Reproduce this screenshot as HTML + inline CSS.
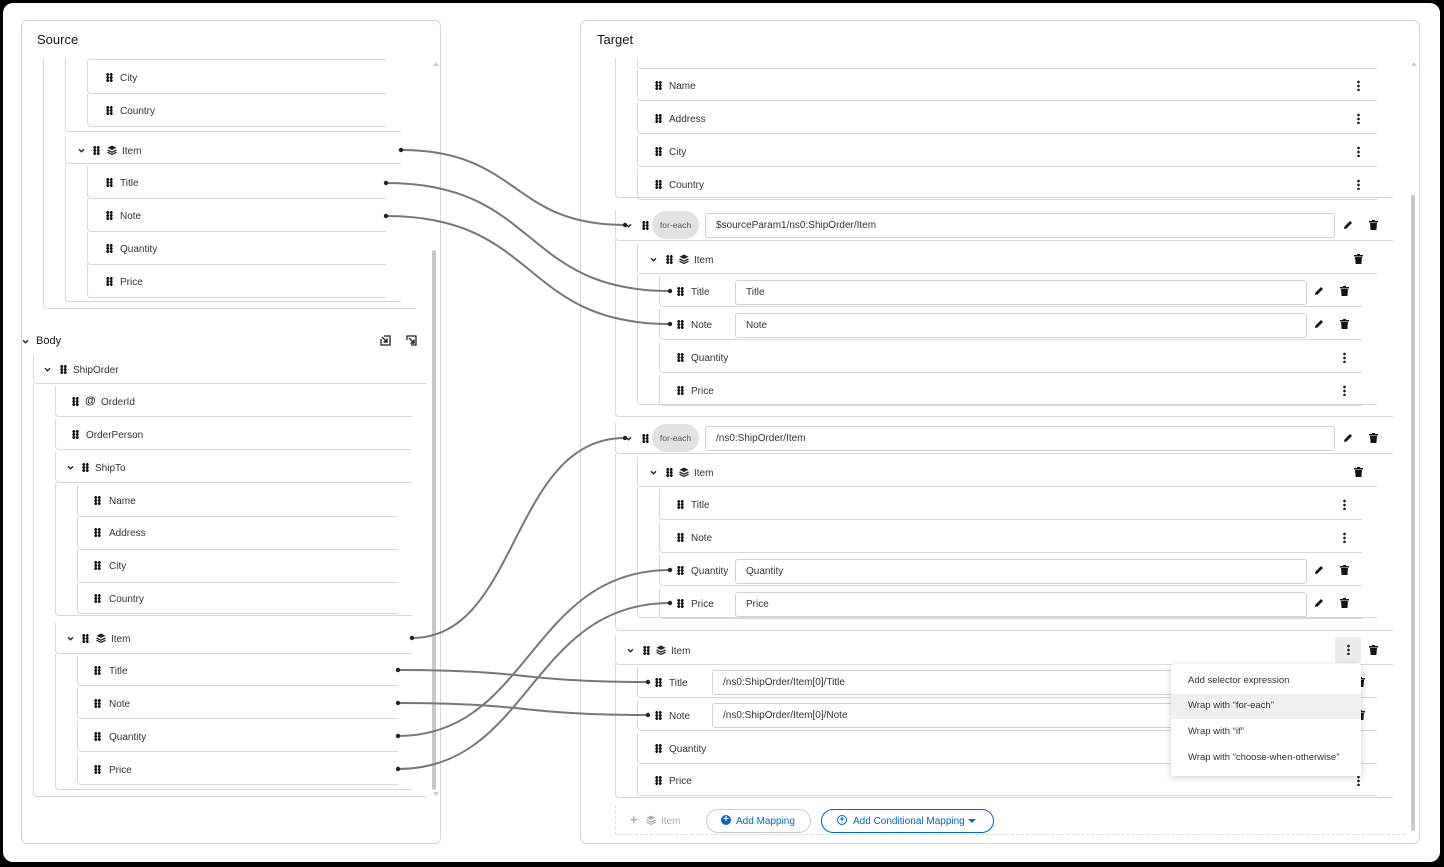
<!DOCTYPE html>
<html><head><meta charset="utf-8"><style>
*{box-sizing:border-box;margin:0;padding:0}
body{width:1444px;height:867px;background:#000;position:relative;overflow:hidden;font-family:"Liberation Sans",sans-serif;color:#222}
#page{position:absolute;left:3px;top:3px;width:1437px;height:859px;background:#fff;border-radius:10px;overflow:hidden}
.a{position:absolute}
.panel{position:absolute;border:1px solid #d6d6d6;border-radius:6px;background:#fff}
.h{position:absolute;font-size:13px;color:#151515}
.r{position:absolute;border-left:1px solid #d8d8d8;border-bottom:1px solid #d8d8d8;border-radius:0 0 0 4px}
.t{position:absolute;font-size:10px;line-height:14px;color:#333;white-space:nowrap;transform:translateY(2px)}
.g{position:absolute;width:7px;height:9px;background:radial-gradient(circle,#151515 1.4px,transparent 1.6px) 0 0/3.5px 3px}
.k{position:absolute;width:3px;height:11px;background:radial-gradient(circle,#222 1.2px,transparent 1.5px) 0 0/3px 4px}
.in{position:absolute;border:1px solid #d2d2d2;border-radius:3px;font-size:10px;line-height:23px;padding-left:10px;color:#333;background:#fff;white-space:nowrap;overflow:hidden}
.pill{position:absolute;background:#e2e2e2;border-radius:14px;font-size:8.5px;color:#555;text-align:center;line-height:28px;width:47px;height:28px}
svg.i{position:absolute;overflow:visible}
</style></head><body><div id="page">
<svg width="0" height="0" style="position:absolute"><defs>
<symbol id="chev" viewBox="0 0 8 6"><path d="M1 1.5 L4 4.5 L7 1.5" fill="none" stroke="#222" stroke-width="1.6"/></symbol>
<symbol id="lay" viewBox="0 0 10 10"><path d="M5 0.5 L9.5 2.8 L5 5 L0.5 2.8Z" fill="#222"/><path d="M0.5 5 L5 7.2 L9.5 5" fill="none" stroke="#222" stroke-width="1.3"/><path d="M0.5 7.2 L5 9.4 L9.5 7.2" fill="none" stroke="#222" stroke-width="1.3"/></symbol>
<symbol id="trash" viewBox="0 0 9 10"><rect x="0" y="1" width="9" height="1.5" fill="#151515"/><rect x="3" y="0" width="3" height="1.2" fill="#151515"/><path d="M1 3 H8 L7.4 10 H1.6Z" fill="#151515"/></symbol>
<symbol id="pen" viewBox="0 0 10 10"><path d="M1 9 L1.5 6.5 L7 1 L9 3 L3.5 8.5Z" fill="#151515"/></symbol>
</defs></svg>
<div class="a" style="left:-3px;top:-3px;width:1444px;height:867px">

<!-- SOURCE PANEL -->
<div class="panel" style="left:21px;top:20px;width:420px;height:824px"></div>
<div class="h" style="left:37px;top:32px">Source</div>
<div class="a" style="left:22px;top:58px;width:410px;height:253px;overflow:hidden">
 <div style="position:absolute;left:-22px;top:-58px;width:440px;height:320px">
 <div class="r" style="left:43px;top:40px;width:373px;height:269px"></div>
 <div class="r" style="left:65px;top:40px;width:336px;height:92px"></div>
 <div class="r" style="left:87px;top:40px;width:299px;height:20px"></div>
 <div class="r" style="left:87px;top:61px;width:299px;height:33px"></div><div class="g" style="left:106px;top:73px"></div><div class="t" style="left:120px;top:70px">City</div>
 <div class="r" style="left:87px;top:94px;width:299px;height:33px"></div><div class="g" style="left:106px;top:106px"></div><div class="t" style="left:120px;top:103px">Country</div>
 <div class="r" style="left:65px;top:137px;width:336px;height:27px"></div>
 <svg class="i" style="left:78px;top:148px" width="7" height="5"><use href="#chev"/></svg><div class="g" style="left:93px;top:146px"></div><svg class="i" style="left:107px;top:145px" width="10" height="10"><use href="#lay"/></svg><div class="t" style="left:122px;top:143px">Item</div>
 <div class="r" style="left:65px;top:164px;width:336px;height:138px"></div>
 <div class="r" style="left:87px;top:166px;width:299px;height:33px"></div><div class="g" style="left:106px;top:178px"></div><div class="t" style="left:120px;top:175px">Title</div>
 <div class="r" style="left:87px;top:199px;width:299px;height:33px"></div><div class="g" style="left:106px;top:211px"></div><div class="t" style="left:120px;top:208px">Note</div>
 <div class="r" style="left:87px;top:232px;width:299px;height:33px"></div><div class="g" style="left:106px;top:244px"></div><div class="t" style="left:120px;top:241px">Quantity</div>
 <div class="r" style="left:87px;top:265px;width:299px;height:33px"></div><div class="g" style="left:106px;top:277px"></div><div class="t" style="left:120px;top:274px">Price</div>
 </div>
</div>
<div class="a" style="left:433px;top:62px;width:0;height:0;border:3px solid transparent;border-bottom:4px solid #ccc;border-top:none"></div>
<div class="a" style="left:432px;top:250px;width:4px;height:540px;background:#c8c8c8;border-radius:2px"></div>
<div class="a" style="left:433px;top:792px;width:0;height:0;border:3px solid transparent;border-top:4px solid #ccc;border-bottom:none"></div>

<svg class="i" style="left:22px;top:339px" width="7" height="5"><use href="#chev"/></svg>
<div class="a" style="left:36px;top:335px;font-size:11px;color:#151515">Body</div>
<svg class="i" style="left:380px;top:335px" width="11" height="11" viewBox="0 0 11 11"><path d="M1 4 V10 H10 V1 H4" fill="none" stroke="#222" stroke-width="1.3"/><path d="M2 2 L7 7 M7 3.5 V7 H3.5" fill="none" stroke="#222" stroke-width="1.4"/></svg>
<svg class="i" style="left:406px;top:335px" width="11" height="11" viewBox="0 0 11 11"><path d="M1 5 V1 H10 V10 H5" fill="none" stroke="#222" stroke-width="1.3"/><path d="M3 3 L8 8 M8 4.5 V8 H4.5" fill="none" stroke="#222" stroke-width="1.4"/></svg>

<div class="r" style="left:33px;top:356px;width:394px;height:28px"></div>
<svg class="i" style="left:44px;top:367px" width="7" height="5"><use href="#chev"/></svg><div class="g" style="left:60px;top:365px"></div><div class="t" style="left:73px;top:362px">ShipOrder</div>
<div class="r" style="left:33px;top:384px;width:394px;height:413px"></div>
<div class="r" style="left:55px;top:386px;width:357px;height:31px"></div><div class="g" style="left:72px;top:397px"></div><div class="a" style="left:85px;top:395px;font-size:11px;font-weight:bold">@</div><div class="t" style="left:101px;top:394px">OrderId</div>
<div class="r" style="left:55px;top:419px;width:357px;height:31px"></div><div class="g" style="left:72px;top:430px"></div><div class="t" style="left:86px;top:427px">OrderPerson</div>
<div class="r" style="left:55px;top:452px;width:357px;height:31px"></div>
<svg class="i" style="left:67px;top:465px" width="7" height="5"><use href="#chev"/></svg><div class="g" style="left:82px;top:463px"></div><div class="t" style="left:95px;top:460px">ShipTo</div>
<div class="r" style="left:55px;top:483px;width:357px;height:133px"></div>
<div class="r" style="left:77px;top:485px;width:321px;height:32px"></div><div class="g" style="left:94px;top:496px"></div><div class="t" style="left:109px;top:493px">Name</div>
<div class="r" style="left:77px;top:517px;width:321px;height:33px"></div><div class="g" style="left:94px;top:528px"></div><div class="t" style="left:109px;top:525px">Address</div>
<div class="r" style="left:77px;top:550px;width:321px;height:33px"></div><div class="g" style="left:94px;top:561px"></div><div class="t" style="left:109px;top:558px">City</div>
<div class="r" style="left:77px;top:583px;width:321px;height:31px"></div><div class="g" style="left:94px;top:594px"></div><div class="t" style="left:109px;top:591px">Country</div>
<div class="r" style="left:55px;top:623px;width:357px;height:31px"></div>
<svg class="i" style="left:67px;top:636px" width="7" height="5"><use href="#chev"/></svg><div class="g" style="left:82px;top:634px"></div><svg class="i" style="left:96px;top:633px" width="10" height="10"><use href="#lay"/></svg><div class="t" style="left:111px;top:631px">Item</div>
<div class="r" style="left:55px;top:654px;width:357px;height:136px"></div>
<div class="r" style="left:77px;top:655px;width:321px;height:31px"></div><div class="g" style="left:94px;top:666px"></div><div class="t" style="left:109px;top:663px">Title</div>
<div class="r" style="left:77px;top:688px;width:321px;height:31px"></div><div class="g" style="left:94px;top:699px"></div><div class="t" style="left:109px;top:696px">Note</div>
<div class="r" style="left:77px;top:721px;width:321px;height:31px"></div><div class="g" style="left:94px;top:732px"></div><div class="t" style="left:109px;top:729px">Quantity</div>
<div class="r" style="left:77px;top:754px;width:321px;height:31px"></div><div class="g" style="left:94px;top:765px"></div><div class="t" style="left:109px;top:762px">Price</div>

<!-- TARGET PANEL -->
<div class="panel" style="left:580px;top:20px;width:840px;height:824px"></div>
<div class="h" style="left:597px;top:32px">Target</div>
<div class="a" style="left:1411px;top:62px;width:0;height:0;border:3px solid transparent;border-bottom:4px solid #ccc;border-top:none"></div>
<div class="a" style="left:1411px;top:195px;width:4px;height:636px;background:#c8c8c8;border-radius:2px"></div>

<div class="a" style="left:581px;top:58px;width:828px;height:145px;overflow:hidden">
 <div style="position:absolute;left:-581px;top:-58px;width:1420px;height:220px">
 <div class="r" style="left:615px;top:40px;width:778px;height:158px"></div>
 <div class="r" style="left:637px;top:40px;width:740px;height:29px"></div>
 <div class="r" style="left:637px;top:70px;width:740px;height:31px"></div><div class="g" style="left:655px;top:81px"></div><div class="t" style="left:669px;top:78px">Name</div><div class="k" style="left:1357px;top:80px"></div>
 <div class="r" style="left:637px;top:103px;width:740px;height:31px"></div><div class="g" style="left:655px;top:114px"></div><div class="t" style="left:669px;top:111px">Address</div><div class="k" style="left:1357px;top:113px"></div>
 <div class="r" style="left:637px;top:136px;width:740px;height:31px"></div><div class="g" style="left:655px;top:147px"></div><div class="t" style="left:669px;top:144px">City</div><div class="k" style="left:1357px;top:146px"></div>
 <div class="r" style="left:637px;top:169px;width:740px;height:31px"></div><div class="g" style="left:655px;top:180px"></div><div class="t" style="left:669px;top:177px">Country</div><div class="k" style="left:1357px;top:179px"></div>
 </div>
</div>

<!-- for-each 1 -->
<div class="r" style="left:615px;top:210px;width:778px;height:31px"></div>
<svg class="i" style="left:625px;top:223px" width="7" height="5"><use href="#chev"/></svg><div class="g" style="left:642px;top:221px"></div>
<div class="pill" style="left:652px;top:211px">for-each</div>
<div class="in" style="left:705px;top:213px;width:630px;height:25px">$sourceParam1/ns0:ShipOrder/Item</div>
<svg class="i" style="left:1343px;top:220px" width="10" height="10"><use href="#pen"/></svg><svg class="i" style="left:1369px;top:220px" width="9" height="10"><use href="#trash"/></svg>
<div class="r" style="left:615px;top:241px;width:778px;height:176px"></div>
<div class="r" style="left:637px;top:244px;width:740px;height:30px"></div>
<svg class="i" style="left:650px;top:257px" width="7" height="5"><use href="#chev"/></svg><div class="g" style="left:666px;top:255px"></div><svg class="i" style="left:679px;top:254px" width="10" height="10"><use href="#lay"/></svg><div class="t" style="left:694px;top:252px">Item</div>
<svg class="i" style="left:1354px;top:254px" width="9" height="10"><use href="#trash"/></svg>
<div class="r" style="left:637px;top:274px;width:740px;height:131px"></div>
<div class="r" style="left:659px;top:276px;width:703px;height:31px"></div><div class="g" style="left:677px;top:287px"></div><div class="t" style="left:691px;top:284px">Title</div><div class="in" style="left:735px;top:280px;width:572px;height:25px">Title</div><svg class="i" style="left:1314px;top:286px" width="10" height="10"><use href="#pen"/></svg><svg class="i" style="left:1340px;top:286px" width="9" height="10"><use href="#trash"/></svg>
<div class="r" style="left:659px;top:309px;width:703px;height:31px"></div><div class="g" style="left:677px;top:320px"></div><div class="t" style="left:691px;top:317px">Note</div><div class="in" style="left:735px;top:313px;width:572px;height:25px">Note</div><svg class="i" style="left:1314px;top:319px" width="10" height="10"><use href="#pen"/></svg><svg class="i" style="left:1340px;top:319px" width="9" height="10"><use href="#trash"/></svg>
<div class="r" style="left:659px;top:342px;width:703px;height:31px"></div><div class="g" style="left:677px;top:353px"></div><div class="t" style="left:691px;top:350px">Quantity</div><div class="k" style="left:1343px;top:352px"></div>
<div class="r" style="left:659px;top:375px;width:703px;height:31px"></div><div class="g" style="left:677px;top:386px"></div><div class="t" style="left:691px;top:383px">Price</div><div class="k" style="left:1343px;top:385px"></div>

<!-- for-each 2 -->
<div class="r" style="left:615px;top:423px;width:778px;height:31px"></div>
<svg class="i" style="left:625px;top:436px" width="7" height="5"><use href="#chev"/></svg><div class="g" style="left:642px;top:434px"></div>
<div class="pill" style="left:652px;top:424px">for-each</div>
<div class="in" style="left:705px;top:426px;width:630px;height:25px">/ns0:ShipOrder/Item</div>
<svg class="i" style="left:1343px;top:433px" width="10" height="10"><use href="#pen"/></svg><svg class="i" style="left:1369px;top:433px" width="9" height="10"><use href="#trash"/></svg>
<div class="r" style="left:615px;top:454px;width:778px;height:177px"></div>
<div class="r" style="left:637px;top:457px;width:740px;height:30px"></div>
<svg class="i" style="left:650px;top:470px" width="7" height="5"><use href="#chev"/></svg><div class="g" style="left:666px;top:468px"></div><svg class="i" style="left:679px;top:467px" width="10" height="10"><use href="#lay"/></svg><div class="t" style="left:694px;top:465px">Item</div>
<svg class="i" style="left:1354px;top:467px" width="9" height="10"><use href="#trash"/></svg>
<div class="r" style="left:637px;top:487px;width:740px;height:131px"></div>
<div class="r" style="left:659px;top:489px;width:703px;height:31px"></div><div class="g" style="left:677px;top:500px"></div><div class="t" style="left:691px;top:497px">Title</div><div class="k" style="left:1343px;top:499px"></div>
<div class="r" style="left:659px;top:522px;width:703px;height:31px"></div><div class="g" style="left:677px;top:533px"></div><div class="t" style="left:691px;top:530px">Note</div><div class="k" style="left:1343px;top:532px"></div>
<div class="r" style="left:659px;top:555px;width:703px;height:31px"></div><div class="g" style="left:677px;top:566px"></div><div class="t" style="left:691px;top:563px">Quantity</div><div class="in" style="left:735px;top:559px;width:572px;height:25px">Quantity</div><svg class="i" style="left:1314px;top:565px" width="10" height="10"><use href="#pen"/></svg><svg class="i" style="left:1340px;top:565px" width="9" height="10"><use href="#trash"/></svg>
<div class="r" style="left:659px;top:588px;width:703px;height:31px"></div><div class="g" style="left:677px;top:599px"></div><div class="t" style="left:691px;top:596px">Price</div><div class="in" style="left:735px;top:592px;width:572px;height:25px">Price</div><svg class="i" style="left:1314px;top:598px" width="10" height="10"><use href="#pen"/></svg><svg class="i" style="left:1340px;top:598px" width="9" height="10"><use href="#trash"/></svg>

<!-- Item 3 -->
<div class="r" style="left:615px;top:635px;width:778px;height:30px"></div>
<svg class="i" style="left:627px;top:648px" width="7" height="5"><use href="#chev"/></svg><div class="g" style="left:643px;top:646px"></div><svg class="i" style="left:656px;top:645px" width="10" height="10"><use href="#lay"/></svg><div class="t" style="left:671px;top:643px">Item</div>
<div class="a" style="left:1335px;top:637px;width:26px;height:26px;background:#ececec;border-radius:3px"></div><div class="k" style="left:1347px;top:644px"></div>
<svg class="i" style="left:1369px;top:645px" width="9" height="10"><use href="#trash"/></svg>
<div class="r" style="left:615px;top:665px;width:778px;height:133px"></div>
<div class="r" style="left:637px;top:667px;width:740px;height:31px"></div><div class="g" style="left:655px;top:678px"></div><div class="t" style="left:669px;top:675px">Title</div><div class="in" style="left:712px;top:670px;width:640px;height:25px">/ns0:ShipOrder/Item[0]/Title</div><svg class="i" style="left:1356px;top:677px" width="9" height="10"><use href="#trash"/></svg>
<div class="r" style="left:637px;top:700px;width:740px;height:31px"></div><div class="g" style="left:655px;top:711px"></div><div class="t" style="left:669px;top:708px">Note</div><div class="in" style="left:712px;top:703px;width:640px;height:25px">/ns0:ShipOrder/Item[0]/Note</div><svg class="i" style="left:1356px;top:710px" width="9" height="10"><use href="#trash"/></svg>
<div class="r" style="left:637px;top:733px;width:740px;height:31px"></div><div class="g" style="left:655px;top:744px"></div><div class="t" style="left:669px;top:741px">Quantity</div>
<div class="r" style="left:637px;top:765px;width:740px;height:31px"></div><div class="g" style="left:655px;top:776px"></div><div class="t" style="left:669px;top:773px">Price</div><div class="k" style="left:1357px;top:775px"></div>

<!-- bottom bar -->
<div class="a" style="left:615px;top:805px;width:790px;height:30px;border-left:1px dashed #ddd;border-bottom:1px dashed #ddd"></div>
<div class="a" style="left:630px;top:812px;font-size:13px;color:#aaa;font-weight:bold">+</div>
<svg class="i" style="left:646px;top:815px" width="10" height="10"><use href="#lay" opacity="0.35"/></svg>
<div class="t" style="left:661px;top:813px;color:#aaa">Item</div>
<div class="a" style="left:706px;top:809px;width:105px;height:24px;border:1px solid #ccc;border-radius:12px"></div>
<div class="a" style="left:721px;top:815px;width:10px;height:10px;border-radius:50%;background:#0066cc;color:#fff;font-size:10px;line-height:10px;text-align:center;font-weight:bold">+</div>
<div class="t" style="left:736px;top:813px;color:#0066cc">Add Mapping</div>
<div class="a" style="left:821px;top:809px;width:173px;height:24px;border:1px solid #0066cc;border-radius:12px"></div>
<div class="a" style="left:837px;top:815px;width:10px;height:10px;border-radius:50%;border:1px solid #0066cc"></div><div class="a" style="left:837px;top:814px;width:10px;font-size:9px;line-height:10px;color:#0066cc;text-align:center;font-weight:bold">+</div>
<div class="t" style="left:853px;top:813px;color:#0066cc">Add Conditional Mapping</div>
<div class="a" style="left:968px;top:819px;border:4px solid transparent;border-top:4px solid #0066cc;border-bottom:none"></div>

<!-- dropdown -->
<div class="a" style="left:1171px;top:664px;width:190px;height:112px;background:#fff;box-shadow:0 2px 8px rgba(0,0,0,.18);border-radius:2px"></div>
<div class="a" style="left:1171px;top:694px;width:190px;height:25px;background:#f0f0f0"></div>
<div class="t" style="left:1188px;top:672px;font-size:9.5px">Add selector expression</div>
<div class="t" style="left:1188px;top:697px;font-size:9.5px">Wrap with “for-each”</div>
<div class="t" style="left:1188px;top:723px;font-size:9.5px">Wrap with “if”</div>
<div class="t" style="left:1188px;top:749px;font-size:9.5px">Wrap with “choose-when-otherwise”</div>

<!-- connection lines -->
<svg class="a" style="left:0;top:0" width="1444" height="867">
<g fill="none" stroke="#777" stroke-width="2">
<path d="M401 150 C520 150 510 225 625 225"/>
<path d="M386 183 C540 183 520 291 670 291"/>
<path d="M386 216 C540 216 520 324 670 324"/>
<path d="M412 638 C520 638 510 438 625 438"/>
<path d="M398 670 C530 670 520 682 648 682"/>
<path d="M398 703 C530 703 520 715 648 715"/>
<path d="M398 736 C530 736 530 570 670 570"/>
<path d="M398 769 C530 769 530 603 670 603"/>
</g>
<g fill="#222">
<circle cx="401" cy="150" r="2.2"/><circle cx="386" cy="183" r="2.2"/><circle cx="386" cy="216" r="2.2"/>
<circle cx="412" cy="638" r="2.2"/><circle cx="398" cy="670" r="2.2"/><circle cx="398" cy="703" r="2.2"/><circle cx="398" cy="736" r="2.2"/><circle cx="398" cy="769" r="2.2"/>
<circle cx="625" cy="225" r="2.2"/><circle cx="670" cy="291" r="2.2"/><circle cx="670" cy="324" r="2.2"/>
<circle cx="625" cy="438" r="2.2"/><circle cx="648" cy="682" r="2.2"/><circle cx="648" cy="715" r="2.2"/><circle cx="670" cy="570" r="2.2"/><circle cx="670" cy="603" r="2.2"/>
</g>
</svg>
</div>
</div></body></html>
